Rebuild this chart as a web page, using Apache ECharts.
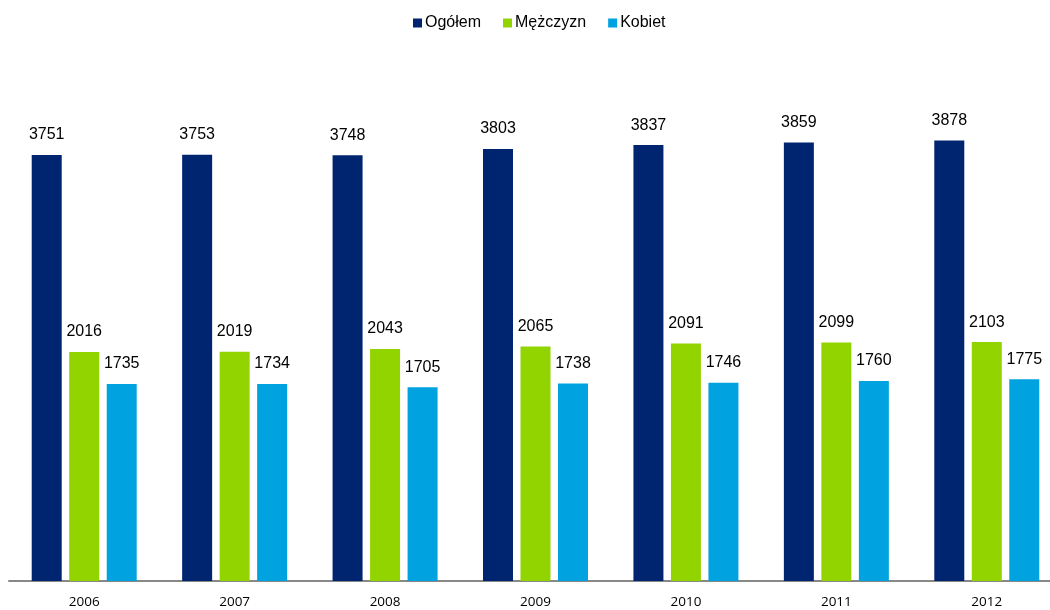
<!DOCTYPE html>
<html><head><meta charset="utf-8">
<script src="https://cdn.jsdelivr.net/npm/echarts@6/dist/echarts.min.js"></script>
<style>html,body{margin:0;padding:0;background:#fff}#c{width:1050px;height:610px}</style>
</head><body><div id="c"></div>
<script>
const years = ['2006','2007','2008','2009','2010','2011','2012'];
const ogolem = [3751,3753,3748,3803,3837,3859,3878];
const mezczyzn = [2016,2019,2043,2065,2091,2099,2103];
const kobiet = [1735,1734,1705,1738,1746,1760,1775];

const chart = echarts.init(document.getElementById('c'));
const lbl = {show:true, position:'top', distance:12, color:'#000', fontFamily:'Liberation Sans, Arial', fontSize:16};
chart.setOption({
  animation:false,
  legend:{top:15, left:413, padding:0, itemWidth:9, itemHeight:9, itemGap:22, icon:'rect',
    textStyle:{fontFamily:'Liberation Sans, Arial', fontSize:16, color:'#000', padding:[0,0,0,-2]},
    data:['Ogółem','Mężczyzn','Kobiet']},
  grid:{left:9, width:1053, top:13, bottom:29, containLabel:false, outerBoundsMode:'none'},
  xAxis:{type:'category', data:years,
    axisLine:{lineStyle:{color:'#888', width:2}}, axisTick:{show:false},
    axisLabel:{color:'#000', fontFamily:'Open Sans, Liberation Sans', fontSize:13.5, margin:14}},
  yAxis:{type:'value', min:0, max:5000, show:false, splitLine:{show:false}},
  series:[
    {name:'Ogółem', type:'bar', data:ogolem, barWidth:30, barGap:'25%', barCategoryGap:'30%', itemStyle:{color:'#002570'}, label:lbl},
    {name:'Mężczyzn', type:'bar', data:mezczyzn, barWidth:30, barGap:'25%', itemStyle:{color:'#92d400'}, label:lbl},
    {name:'Kobiet', type:'bar', data:kobiet, barWidth:30, barGap:'25%', itemStyle:{color:'#00a3df'}, label:lbl}
  ]
});
</script></body></html>
